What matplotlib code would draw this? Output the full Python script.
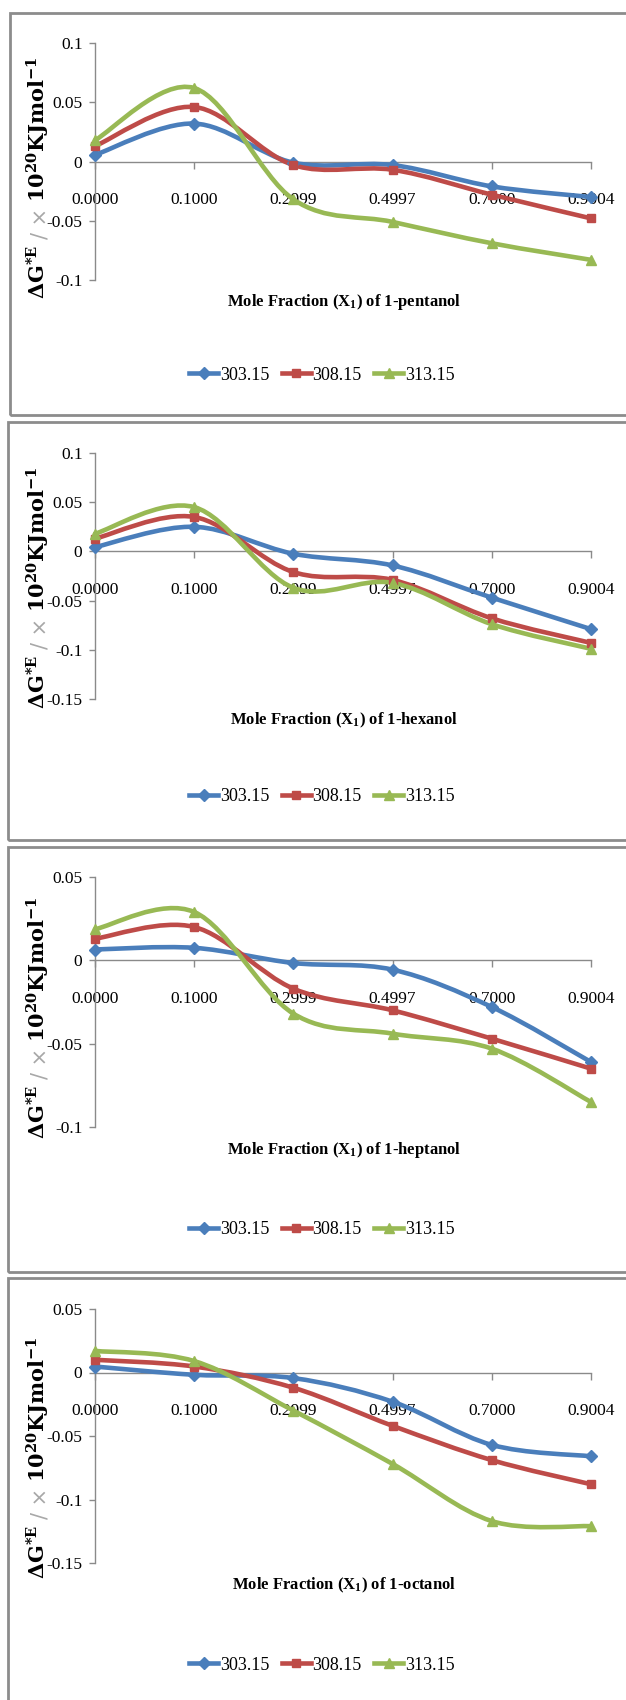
import numpy as np
import matplotlib
matplotlib.use("Agg")
import matplotlib.pyplot as plt
from matplotlib.path import Path
from matplotlib.patches import PathPatch, Rectangle
from matplotlib.lines import Line2D

# ---- data ----
X_LABELS = ["0.0000", "0.1000", "0.2999", "0.4997", "0.7000", "0.9004"]
TEMPS = ["303.15", "308.15", "313.15"]
ALCOHOLS = ["1-pentanol", "1-hexanol", "1-heptanol", "1-octanol"]

pent_303 = [0.0056, 0.032, -0.001, -0.003, -0.021, -0.030]
pent_308 = [0.013, 0.046, -0.003, -0.007, -0.028, -0.048]
pent_313 = [0.018, 0.062, -0.032, -0.051, -0.069, -0.083]

hex_303 = [0.0044, 0.025, -0.0024, -0.0143, -0.047, -0.079]
hex_308 = [0.013, 0.035, -0.021, -0.029, -0.068, -0.093]
hex_313 = [0.018, 0.045, -0.037, -0.032, -0.074, -0.099]

hept_303 = [0.0065, 0.0075, -0.0016, -0.0056, -0.028, -0.061]
hept_308 = [0.013, 0.020, -0.017, -0.030, -0.047, -0.065]
hept_313 = [0.0187, 0.029, -0.032, -0.044, -0.053, -0.085]

oct_303 = [0.0047, -0.0018, -0.0044, -0.023, -0.057, -0.066]
oct_308 = [0.010, 0.0047, -0.012, -0.042, -0.069, -0.088]
oct_313 = [0.017, 0.009, -0.030, -0.072, -0.117, -0.121]

SERIES = [
    [pent_303, pent_308, pent_313],
    [hex_303, hex_308, hex_313],
    [hept_303, hept_308, hept_313],
    [oct_303, oct_308, oct_313],
]

YTICKS = [
    [0.1, 0.05, 0, -0.05, -0.1],
    [0.1, 0.05, 0, -0.05, -0.1, -0.15],
    [0.05, 0, -0.05, -0.1],
    [0.05, 0, -0.05, -0.1, -0.15],
]

# ---- layout (pixels from top-left of a 626x1700 canvas) ----
W, H = 626, 1700
# box_left, box_top, box_bottom, axes_top, axes_bottom, xlabel_y, legend_y, ylabel_center
LAYOUT = [
    (10, 13, 415, 43, 280, 302, 375, 178),
    (8, 422, 840, 453, 699, 720, 797, 588),
    (8, 847, 1272, 877, 1127, 1150, 1230, 1018),
    (8, 1278, 1712, 1309, 1563, 1585, 1665, 1458),
]
AX_LEFT, AX_RIGHT = 95, 591

COLORS = ["#4A7EBB", "#BE4B48", "#98B954"]
MARKERS = [("D", 6.5), ("s", 6.0), ("^", 7.5)]
AXIS_GRAY = "#8A8A8A"

plt.rcParams["font.family"] = ["Liberation Serif", "DejaVu Serif"]
plt.rcParams["mathtext.fontset"] = "custom"


def fx(px):
    return px / W


def fy(py):
    return 1 - py / H


def smooth_path(xs, ys):
    # Excel-style smoothed line: cubic Bezier through the points
    pts = np.column_stack([xs, ys]).astype(float)
    n = len(pts)
    verts = [pts[0]]
    codes = [Path.MOVETO]
    for i in range(n - 1):
        p0 = pts[i - 1] if i > 0 else pts[i]
        p1, p2 = pts[i], pts[i + 1]
        p3 = pts[i + 2] if i + 2 < n else pts[i + 1]
        verts += [p1 + (p2 - p0) / 6, p2 - (p3 - p1) / 6, p2]
        codes += [Path.CURVE4] * 3
    return Path(verts, codes)


fig = plt.figure(figsize=(W / 100, H / 100), dpi=100)
renderer = fig.canvas.get_renderer()
x = np.arange(len(X_LABELS))

for k, (bl, bt, bb, at, ab, xl_y, lg_y, yl_c) in enumerate(LAYOUT):
    # panel frame
    fig.add_artist(Rectangle((fx(bl), fy(bb)), 1.2, (bb - bt) / H,
                             transform=fig.transFigure, fill=False,
                             edgecolor="#8C8C8C", linewidth=2))

    ax = fig.add_axes([fx(AX_LEFT), fy(ab), (AX_RIGHT - AX_LEFT) / W, (ab - at) / H])
    ax.set_xlim(0, len(X_LABELS) - 1)
    ax.set_ylim(min(YTICKS[k]), max(YTICKS[k]))
    ax.patch.set_alpha(0)
    for s in ["top", "right"]:
        ax.spines[s].set_visible(False)
    ax.spines["bottom"].set_position(("data", 0))
    for s in ["left", "bottom"]:
        ax.spines[s].set_color(AXIS_GRAY)
        ax.spines[s].set_linewidth(1.0)

    ax.set_xticks(x)
    ax.set_xticklabels(X_LABELS)
    ax.set_yticks(YTICKS[k])
    ax.set_yticklabels([f"{v:g}" for v in YTICKS[k]])
    ax.tick_params(axis="x", direction="out", length=5, width=1, color=AXIS_GRAY,
                   pad=17, labelsize=12.5)
    ax.tick_params(axis="y", direction="out", length=4, width=1, color=AXIS_GRAY,
                   pad=5, labelsize=12.5)

    for j, ys in enumerate(SERIES[k]):
        ax.add_patch(PathPatch(smooth_path(x, ys), fill=False, edgecolor=COLORS[j],
                               linewidth=3.3, capstyle="round", joinstyle="round",
                               zorder=3, clip_on=False))
        m, ms = MARKERS[j]
        ax.plot(x, ys, linestyle="none", marker=m, markersize=ms, color=COLORS[j],
                zorder=4, clip_on=False)

    # x axis title
    fig.text(fx(344), fy(xl_y), r"Mole Fraction (X$\mathregular{_1}$) of " + ALCOHOLS[k],
             ha="center", va="center", fontsize=12, fontweight="bold")

    # legend
    handles = [Line2D([0], [0], color=COLORS[j], linewidth=3.3, marker=MARKERS[j][0],
                      markersize=MARKERS[j][1]) for j in range(3)]
    fig.legend(handles, TEMPS, loc="center", bbox_to_anchor=(fx(322), fy(lg_y)),
               ncol=3, frameon=False, fontsize=13, handlelength=1.6,
               handletextpad=0.1, columnspacing=0.7)

    # y axis title, built from pieces so the "/ ×" can be grey
    pieces = [
        (r"ΔG$\mathregular{^{*E}}$", "black", "bold", ["DejaVu Serif"]),
        ("/ ×", "#A8A8A8", "normal", ["DejaVu Sans"]),
        (r"10$\mathregular{^{20}}$KJmol$\mathregular{^{-1}}$", "black", "bold", ["DejaVu Serif"]),
    ]
    gap = 6
    texts = []
    for s, c, wgt, fam in pieces:
        t = fig.text(0, 0, s, rotation=90, rotation_mode="anchor", ha="left",
                     va="baseline", fontsize=15, color=c, fontweight=wgt, family=fam)
        texts.append(t)
    lengths = [t.get_window_extent(renderer).height + gap for t in texts]
    y0 = yl_c + (sum(lengths) - gap) / 2
    for t, ln in zip(texts, lengths):
        t.set_position((fx(46), fy(y0)))
        y0 -= ln

fig.savefig("out.png", dpi=100)
